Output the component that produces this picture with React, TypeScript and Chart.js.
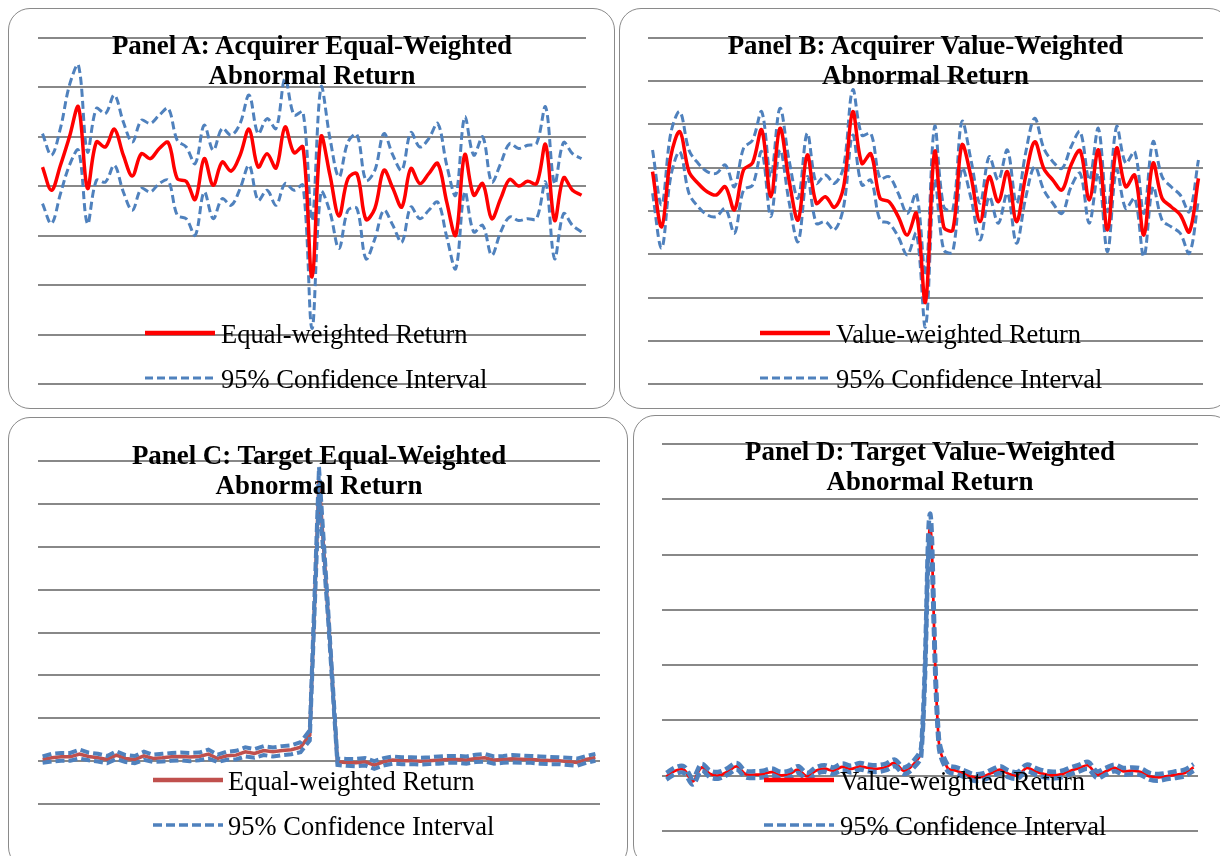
import React, { useEffect, useRef } from "react";
import { Chart, registerables } from "chart.js";

Chart.register(...registerables);

// Event days (category axis)
const eventDays = [
  -30, -29, -28, -27, -26, -25, -24, -23, -22, -21,
  -20, -19, -18, -17, -16, -15, -14, -13, -12, -11,
  -10, -9, -8, -7, -6, -5, -4, -3, -2, -1,
  0, 1, 2, 3, 4, 5, 6, 7, 8, 9,
  10, 11, 12, 13, 14, 15, 16, 17, 18, 19,
  20, 21, 22, 23, 24, 25, 26, 27, 28, 29,
  30,
];

// Panel A: Acquirer equal-weighted abnormal return (%)
const acqEwReturn = [
  0.078, -0.016, 0.085, 0.2, 0.321, -0.008, 0.179, 0.159, 0.231, 0.126,
  0.042, 0.132, 0.112, 0.153, 0.177, 0.031, 0.02, -0.053, 0.112, 0.004,
  0.098, 0.061, 0.126, 0.231, 0.078, 0.132, 0.074, 0.24, 0.136, 0.159,
  -0.367, 0.2, 0.045, -0.12, 0.031, 0.051, -0.134, -0.089, 0.065, -0.008,
  -0.084, 0.072, 0.011, 0.051, 0.092, -0.064, -0.198, 0.128, -0.036, 0.011,
  -0.131, -0.05, 0.028, 0.001, 0.02, 0.011, 0.169, -0.138, 0.034, -0.016,
  -0.036,
];
const acqEwUpper = [
  0.213, 0.126, 0.235, 0.409, 0.49, 0.139, 0.315, 0.294, 0.369, 0.26,
  0.179, 0.267, 0.254, 0.288, 0.315, 0.186, 0.159, 0.092, 0.247, 0.146,
  0.234, 0.207, 0.254, 0.369, 0.213, 0.274, 0.234, 0.436, 0.288, 0.301,
  -0.138, 0.401, 0.194, 0.038, 0.179, 0.209, 0.024, 0.065, 0.213, 0.126,
  0.065, 0.217, 0.159, 0.193, 0.254, 0.085, -0.036, 0.281, 0.126, 0.2,
  0.017, 0.092, 0.173, 0.153, 0.166, 0.173, 0.321, 0.011, 0.177, 0.132,
  0.112,
];
const acqEwLower = [
  -0.07, -0.151, -0.03, 0.085, 0.146, -0.151, 0.024, 0.017, 0.085, -0.023,
  -0.097, -0.009, -0.023, 0.011, 0.024, -0.117, -0.131, -0.198, -0.023, -0.131,
  -0.05, -0.077, -0.009, 0.085, -0.057, -0.016, -0.077, 0.011, -0.016, 0.004,
  -0.575, -0.023, -0.104, -0.252, -0.097, -0.09, -0.293, -0.212, -0.097, -0.158,
  -0.226, -0.084, -0.131, -0.097, -0.064, -0.205, -0.333, -0.023, -0.185, -0.158,
  -0.279, -0.185, -0.124, -0.138, -0.131, -0.131, 0.017, -0.293, -0.111, -0.158,
  -0.185,
];

// Panel B: Acquirer value-weighted abnormal return (%)
const acqVwReturn = [
  0.182, -0.073, 0.251, 0.367, 0.182, 0.128, 0.089, 0.074, 0.112, 0.005,
  0.19, 0.223, 0.375, 0.066, 0.382, 0.143, -0.042, 0.259, 0.036, 0.066,
  0.017, 0.112, 0.459, 0.221, 0.264, 0.059, 0.043, -0.026, -0.111, -0.011,
  -0.421, 0.274, -0.073, -0.088, 0.305, 0.159, -0.049, 0.159, 0.043, 0.182,
  -0.049, 0.159, 0.32, 0.197, 0.143, 0.097, 0.213, 0.279, 0.051, 0.282,
  -0.088, 0.29, 0.112, 0.166, -0.111, 0.221, 0.059, 0.02, -0.018, -0.096,
  0.151,
];
const acqVwUpper = [
  0.282, 0.028, 0.359, 0.459, 0.282, 0.221, 0.182, 0.174, 0.213, 0.112,
  0.29, 0.328, 0.459, 0.159, 0.475, 0.236, 0.059, 0.359, 0.128, 0.166,
  0.128, 0.205, 0.56, 0.351, 0.359, 0.151, 0.159, 0.082, -0.011, 0.082,
  -0.296, 0.39, 0.02, 0.005, 0.413, 0.236, 0.036, 0.251, 0.143, 0.282,
  0.036, 0.267, 0.429, 0.29, 0.228, 0.197, 0.297, 0.367, 0.143, 0.382,
  -0.003, 0.39, 0.221, 0.274, -0.011, 0.32, 0.159, 0.112, 0.074, -0.003,
  0.236,
];
const acqVwLower = [
  0.082, -0.172, 0.159, 0.274, 0.082, 0.02, -0.018, -0.026, 0.012, -0.103,
  0.097, 0.12, 0.274, -0.026, 0.282, 0.043, -0.142, 0.159, -0.057, -0.049,
  -0.088, 0.02, 0.351, 0.12, 0.143, -0.042, -0.057, -0.119, -0.203, -0.103,
  -0.535, 0.143, -0.18, -0.188, 0.197, 0.059, -0.134, 0.066, -0.057, 0.082,
  -0.149, 0.059, 0.205, 0.097, 0.036, -0.011, 0.112, 0.174, -0.057, 0.174,
  -0.188, 0.19, 0.012, 0.059, -0.211, 0.112, -0.042, -0.073, -0.103, -0.196,
  0.051,
];

// Panel C: Target equal-weighted abnormal return (%)
const tgtEwReturn = [
  0.2, 0.39, 0.5, 0.5, 0.82, 0.55, 0.39, 0.2, 0.7, 0.31,
  0.2, 0.62, 0.31, 0.39, 0.5, 0.55, 0.47, 0.55, 0.82, 0.31,
  0.62, 0.7, 1.09, 0.89, 1.24, 1.09, 1.24, 1.32, 1.63, 3.03,
  32.8, 17.0, -0.08, -0.15, -0.2, -0.08, -0.47, -0.08, 0.12, 0.04,
  0.04, 0.0, 0.04, 0.12, 0.2, 0.2, 0.12, 0.31, 0.39, 0.12,
  0.2, 0.27, 0.23, 0.2, 0.12, 0.08, 0.04, -0.04, -0.15, 0.2,
  0.43,
];
const tgtEwUpper = [
  0.55, 0.85, 0.95, 0.95, 1.35, 1.0, 0.85, 0.6, 1.15, 0.7,
  0.6, 1.1, 0.75, 0.85, 0.95, 1.0, 0.95, 1.0, 1.35, 0.75,
  1.1, 1.2, 1.6, 1.4, 1.75, 1.6, 1.75, 1.85, 2.2, 3.6,
  34.3, 17.6, 0.3, 0.25, 0.25, 0.35, 0.0, 0.35, 0.55, 0.45,
  0.45, 0.4, 0.45, 0.55, 0.6, 0.6, 0.55, 0.75, 0.85, 0.55,
  0.6, 0.7, 0.65, 0.6, 0.55, 0.5, 0.45, 0.4, 0.3, 0.6,
  0.85,
];
const tgtEwLower = [
  -0.2, -0.05, 0.05, 0.05, 0.3, 0.1, -0.05, -0.25, 0.25, -0.1,
  -0.25, 0.15, -0.1, -0.05, 0.05, 0.1, 0.0, 0.1, 0.3, -0.1,
  0.15, 0.2, 0.55, 0.4, 0.7, 0.55, 0.7, 0.8, 1.05, 2.4,
  31.2, 16.3, -0.45, -0.55, -0.6, -0.5, -0.9, -0.5, -0.3, -0.35,
  -0.35, -0.4, -0.35, -0.3, -0.2, -0.2, -0.3, -0.1, -0.05, -0.3,
  -0.2, -0.15, -0.2, -0.2, -0.3, -0.35, -0.35, -0.45, -0.55, -0.2,
  0.05,
];

// Panel D: Target value-weighted abnormal return (%)
const tgtVwReturn = [
  -0.06, 0.45, 0.54, -0.52, 0.75, 0.15, 0.03, 0.39, 0.84, 0.15,
  0.09, 0.15, 0.33, 0.03, 0.15, 0.54, -0.06, 0.45, 0.63, 0.45,
  0.79, 0.61, 0.84, 0.7, 0.63, 0.79, 1.15, 0.45, 0.93, 2.2,
  22.5, 3.07, 0.7, 0.45, 0.15, -0.15, -0.09, 0.24, 0.54, 0.15,
  0.03, 0.7, 0.39, 0.15, 0.03, 0.15, 0.45, 0.7, 0.93, 0.09,
  0.39, 0.7, 0.39, 0.45, 0.33, -0.06, -0.15, -0.03, 0.09, 0.24,
  0.75,
];
const tgtVwUpper = [
  0.25, 0.75, 0.85, -0.2, 1.05, 0.45, 0.35, 0.7, 1.15, 0.45,
  0.4, 0.45, 0.65, 0.35, 0.45, 0.85, 0.25, 0.75, 0.95, 0.75,
  1.1, 0.9, 1.15, 1.0, 0.95, 1.1, 1.45, 0.75, 1.25, 2.6,
  23.7, 3.5, 1.0, 0.75, 0.45, 0.15, 0.2, 0.55, 0.85, 0.45,
  0.35, 1.0, 0.7, 0.45, 0.35, 0.45, 0.75, 1.0, 1.25, 0.4,
  0.7, 1.0, 0.7, 0.75, 0.65, 0.25, 0.15, 0.25, 0.4, 0.55,
  1.05,
];
const tgtVwLower = [
  -0.35, 0.15, 0.25, -0.8, 0.45, -0.15, -0.25, 0.1, 0.55, -0.15,
  -0.2, -0.15, 0.05, -0.25, -0.15, 0.25, -0.35, 0.15, 0.35, 0.15,
  0.5, 0.3, 0.55, 0.4, 0.35, 0.5, 0.85, 0.15, 0.6, 1.8,
  21.6, 2.65, 0.4, 0.15, -0.15, -0.45, -0.4, -0.05, 0.25, -0.15,
  -0.25, 0.4, 0.1, -0.15, -0.25, -0.15, 0.15, 0.4, 0.6, -0.2,
  0.1, 0.4, 0.1, 0.15, 0.05, -0.35, -0.45, -0.3, -0.2, -0.05,
  0.45,
];

// Y-axis ranges (gridline values)
const acqYTicks = { min: -0.8, max: 0.6, step: 0.2 };
const acqVwYTicks = { min: -0.8, max: 0.8, step: 0.2 };
const tgtEwYTicks = { min: -5, max: 35, step: 5 };
const tgtVwYTicks = { min: -5, max: 30, step: 5 };

// Texts
const titleA = ["Panel A: Acquirer Equal-Weighted", "Abnormal Return"];
const titleB = ["Panel B: Acquirer Value-Weighted", "Abnormal Return"];
const titleC = ["Panel C: Target Equal-Weighted", "Abnormal Return"];
const titleD = ["Panel D: Target Value-Weighted", "Abnormal Return"];
const ewLabel = "Equal-weighted Return";
const vwLabel = "Value-weighted Return";
const ciLabel = "95% Confidence Interval";

const FONT = '"Liberation Serif", "Times New Roman", Times, serif';
const BLUE = "#4F81BD";
const GRID = "#888888";

type PanelCfg = {
  title: string[];
  retLabel: string;
  ret: number[];
  upper: number[];
  lower: number[];
  y: { min: number; max: number; step: number };
  red: string;
  redW: number;
  blueW: number;
  dash: number[];
  tension: number;
  redOnTop: boolean;
  box: { x: number; y: number; w: number; h: number };
  grid: { l: number; t: number; r: number; b: number };
  titleBase: number;
  sampleL: number;
  textL: number;
  legendBase: number[];
  legRedW: number;
  legBlueW: number;
};

const panels: PanelCfg[] = [
  {
    title: titleA, retLabel: ewLabel, ret: acqEwReturn, upper: acqEwUpper, lower: acqEwLower,
    y: acqYTicks, red: "#FF0000", redW: 3.5, blueW: 3, dash: [8, 4], tension: 0.35, redOnTop: true,
    box: { x: 8, y: 8, w: 607, h: 401 }, grid: { l: 38, t: 38, r: 586, b: 384 },
    titleBase: 53.5, sampleL: 145, textL: 221, legendBase: [343, 388], legRedW: 4.5, legBlueW: 3,
  },
  {
    title: titleB, retLabel: vwLabel, ret: acqVwReturn, upper: acqVwUpper, lower: acqVwLower,
    y: acqVwYTicks, red: "#FF0000", redW: 3.5, blueW: 3, dash: [8, 4], tension: 0.35, redOnTop: true,
    box: { x: 619, y: 8, w: 612, h: 401 }, grid: { l: 648, t: 38, r: 1203, b: 384 },
    titleBase: 53.5, sampleL: 760, textL: 836, legendBase: [343, 388], legRedW: 4.5, legBlueW: 3,
  },
  {
    title: titleC, retLabel: ewLabel, ret: tgtEwReturn, upper: tgtEwUpper, lower: tgtEwLower,
    y: tgtEwYTicks, red: "#C0504D", redW: 3.5, blueW: 4, dash: [9, 4], tension: 0, redOnTop: false,
    box: { x: 8, y: 417, w: 620, h: 452 }, grid: { l: 38, t: 461, r: 600, b: 804 },
    titleBase: 463.5, sampleL: 153, textL: 228, legendBase: [790, 835], legRedW: 4.5, legBlueW: 3.5,
  },
  {
    title: titleD, retLabel: vwLabel, ret: tgtVwReturn, upper: tgtVwUpper, lower: tgtVwLower,
    y: tgtVwYTicks, red: "#FF0000", redW: 2.75, blueW: 4.5, dash: [9, 4], tension: 0.35, redOnTop: false,
    box: { x: 633, y: 415, w: 600, h: 452 }, grid: { l: 662, t: 444, r: 1198, b: 831 },
    titleBase: 460, sampleL: 764, textL: 840, legendBase: [790, 835], legRedW: 4.5, legBlueW: 3.5,
  },
];

function PanelChart({ cfg }: { cfg: PanelCfg }) {
  const ref = useRef<HTMLCanvasElement>(null);
  useEffect(() => {
    const canvas = ref.current;
    if (!canvas) return;
    const { box, grid } = cfg;
    const chart = new Chart(canvas, {
      type: "line",
      data: {
        labels: eventDays,
        datasets: [
          {
            label: cfg.retLabel,
            data: cfg.ret,
            borderColor: cfg.red,
            borderWidth: cfg.redW,
            pointRadius: 0,
            tension: cfg.tension,
            fill: false,
            order: cfg.redOnTop ? 0 : 3,
          },
          {
            label: ciLabel,
            data: cfg.upper,
            borderColor: BLUE,
            borderWidth: cfg.blueW,
            borderDash: cfg.dash,
            pointRadius: 0,
            tension: cfg.tension,
            fill: false,
            order: 1,
          },
          {
            label: ciLabel + " (lower)",
            data: cfg.lower,
            borderColor: BLUE,
            borderWidth: cfg.blueW,
            borderDash: cfg.dash,
            pointRadius: 0,
            tension: cfg.tension,
            fill: false,
            order: 2,
          },
        ],
      },
      options: {
        responsive: false,
        animation: false,
        devicePixelRatio: 1,
        layout: {
          padding: {
            left: grid.l - box.x,
            right: box.x + box.w - grid.r,
            top: grid.t - box.y,
            bottom: box.y + box.h - grid.b,
          },
        },
        plugins: {
          legend: { display: false },
          title: { display: false },
          tooltip: { enabled: false },
        },
        scales: {
          x: { display: false, offset: true },
          y: {
            min: cfg.y.min,
            max: cfg.y.max,
            ticks: { display: false, stepSize: cfg.y.step },
            grid: { color: GRID, lineWidth: 2, drawTicks: false },
            border: { display: false },
          },
        },
      },
    });
    return () => chart.destroy();
  }, [cfg]);

  const { box, grid } = cfg;
  const textStyle: React.CSSProperties = {
    position: "absolute",
    fontFamily: FONT,
    fontSize: 26.5,
    lineHeight: "30px",
    color: "#000",
    whiteSpace: "nowrap",
  };
  return (
    <>
      <div
        style={{
          position: "absolute",
          left: box.x,
          top: box.y,
          width: box.w,
          height: box.h,
          boxSizing: "border-box",
          border: "1.5px solid #8a8a8a",
          borderRadius: 22,
        }}
      />
      <canvas
        ref={ref}
        width={box.w}
        height={box.h}
        style={{ position: "absolute", left: box.x, top: box.y, width: box.w, height: box.h }}
      />
      <div
        style={{
          ...textStyle,
          fontSize: 26.9,
          left: grid.l,
          width: grid.r - grid.l,
          top: cfg.titleBase - 24,
          textAlign: "center",
          fontWeight: "bold",
        }}
      >
        {cfg.title.map((t) => (
          <div key={t}>{t}</div>
        ))}
      </div>
      {[0, 1].map((i) => {
        const base = cfg.legendBase[i];
        const isRed = i === 0;
        const sy = base - 10;
        return (
          <React.Fragment key={i}>
            <svg
              width={70}
              height={10}
              style={{ position: "absolute", left: cfg.sampleL, top: sy - 5, overflow: "visible" }}
            >
              <line
                x1={0}
                y1={5}
                x2={70}
                y2={5}
                stroke={isRed ? cfg.red : BLUE}
                strokeWidth={isRed ? cfg.legRedW : cfg.legBlueW}
                strokeDasharray={isRed ? undefined : cfg.dash.join(" ")}
              />
            </svg>
            <div style={{ ...textStyle, left: cfg.textL, top: base - 24 }}>
              {isRed ? cfg.retLabel : ciLabel}
            </div>
          </React.Fragment>
        );
      })}
    </>
  );
}

export default function App() {
  return (
    <div
      style={{
        position: "absolute",
        left: 0,
        top: 0,
        width: 1220,
        height: 856,
        overflow: "hidden",
        background: "#fff",
      }}
    >
      {panels.map((p) => (
        <PanelChart key={p.title[0]} cfg={p} />
      ))}
    </div>
  );
}
